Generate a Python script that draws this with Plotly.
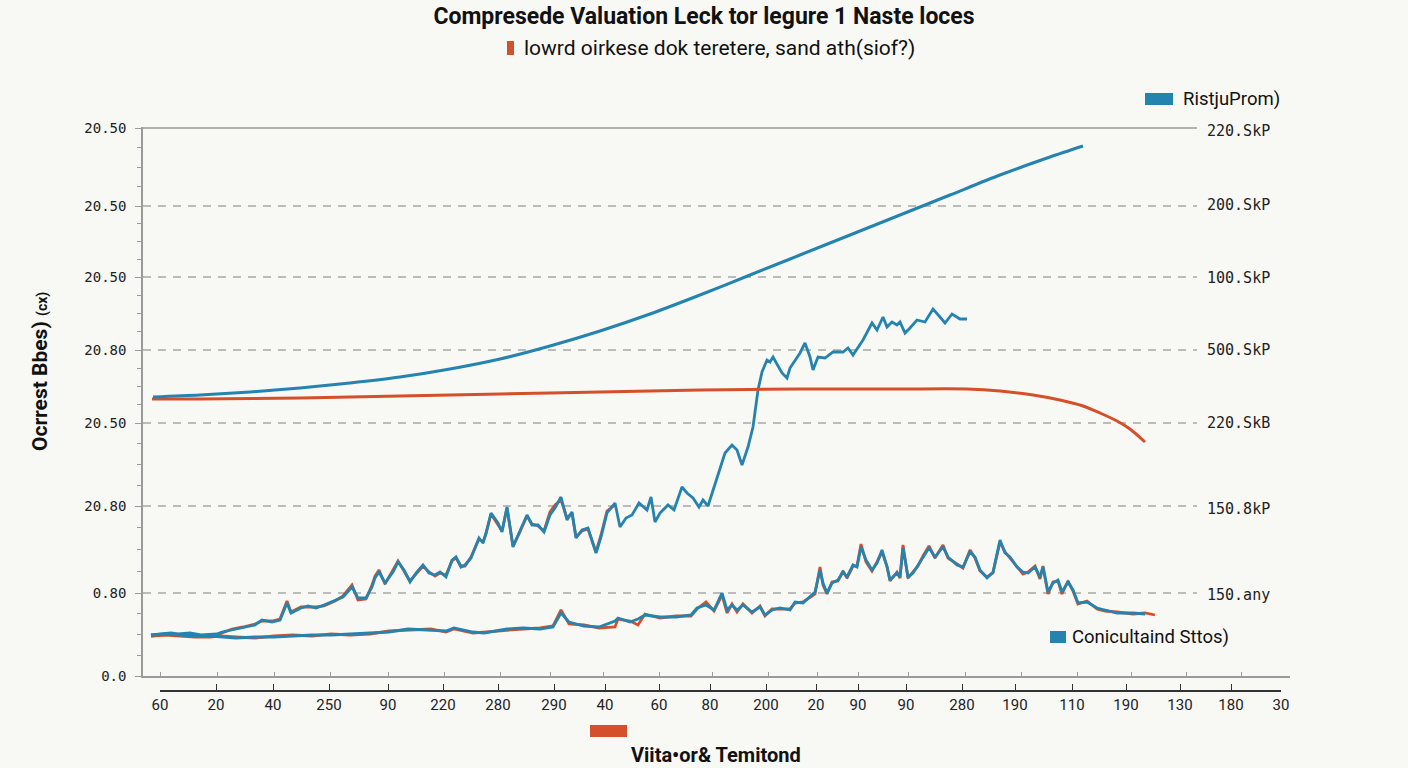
import plotly.graph_objects as go

# ---------------- data (x in "t" units, y in "v" units) ----------------
x_tick_vals = [17, 73, 130, 186, 245, 300, 355, 411, 462, 516, 567, 623, 673, 715, 763, 819, 872, 929, 983, 1037, 1088, 1138]
x_tick_text = ["60", "20", "40", "250", "90", "220", "280", "290", "40", "60", "80", "200", "20", "90", "90", "280", "190", "110", "190", "130", "180", "30"]
x_upper_ticks = [17, 74, 131, 187, 245, 301, 357, 407, 460, 516, 569, 625, 674, 715, 765, 822, 878, 934, 988, 1043, 1098]

y_left_vals = [0, 83, 170, 253, 326, 399, 470, 548]
y_left_text = ["0.0", "0.80", "20.80", "20.50", "20.80", "20.50", "20.50", "20.50"]
y_right_vals = [81, 167, 253, 326, 398, 471, 545]
y_right_text = ["150.any", "150.8kP", "220.SkB", "500.SkP", "100.SkP", "200.SkP", "220.SkP"]

# smooth blue curve
bc_x = [10, 57, 107, 157, 207, 257, 307, 357, 407, 457, 507, 557, 607, 657, 707, 757, 807, 857, 907, 940]
bc_y = [279, 281, 284, 288, 293, 299, 307, 317, 330, 345, 362, 381, 401, 421, 441, 461, 481, 501, 519, 530]

# smooth orange curve
oc_x = [9, 57, 157, 257, 357, 457, 557, 657, 757, 824, 857, 890, 917, 940, 957, 974, 987, 1002]
oc_y = [277, 277, 278, 280, 282, 284, 286, 287, 287, 287, 285, 281, 276, 270, 263, 255, 247, 234]

# noisy upper blue series
ub_x = [8, 20, 28, 35, 47, 58, 74, 79, 89, 100, 112, 119, 129, 137, 144, 148, 158, 165, 173, 181,
        192, 200, 209, 215, 223, 229, 232, 236, 242, 250, 255, 261, 267, 273, 280, 286, 292, 297, 303, 309,
        313, 318, 322, 328, 336, 340, 343, 348, 355, 359, 364, 370, 376, 384, 389, 395, 401, 407, 412, 418,
        424, 429, 433, 439, 445, 453, 458, 464, 472, 477, 483, 489, 496, 504, 508, 512, 517, 525, 531, 539,
        544, 550, 556, 560, 565, 570, 575, 582, 589, 594, 599, 605, 610, 615, 619, 624, 627, 630, 639, 644,
        647, 652, 657, 662, 667, 670, 675, 682, 690, 700, 705, 710, 720, 729, 734, 740, 744, 749, 754, 757,
        762, 767, 774, 782, 790, 797, 802, 809, 817, 824]
ub_y = [41, 42, 43, 42, 43, 41, 42, 44, 46, 48, 51, 56, 54, 56, 73, 63, 68, 70, 68, 71,
        76, 79, 89, 78, 78, 89, 98, 104, 93, 104, 114, 106, 94, 103, 111, 103, 101, 104, 99, 116,
        119, 109, 111, 118, 138, 133, 143, 163, 153, 144, 169, 129, 143, 161, 151, 151, 144, 161, 168, 179,
        156, 164, 138, 146, 148, 123, 139, 163, 173, 149, 158, 161, 173, 166, 179, 154, 163, 171, 166, 189,
        183, 178, 169, 176, 170, 186, 203, 223, 231, 226, 211, 229, 249, 286, 304, 316, 314, 319, 303, 298,
        308, 316, 323, 333, 319, 306, 319, 318, 324, 324, 328, 321, 336, 353, 346, 359, 349, 354, 351, 354,
        343, 348, 356, 354, 367, 359, 353, 362, 357, 357]

# noisy upper orange series (mostly under the blue one)
ou_x = [8, 20, 28, 35, 47, 58, 74, 79, 89, 100, 112, 119, 129, 137, 144, 148, 158, 165, 173, 181,
        192, 200, 209, 215, 223, 229, 232, 236, 242, 250, 255, 261, 267, 273, 280, 286, 292, 297, 303, 309,
        313, 318, 322, 328, 336, 340, 343, 348, 355, 359, 364, 370, 376, 384, 389, 395, 401, 407, 412, 418,
        424, 429, 433, 439, 445, 453, 458, 464, 472]
ou_y = [40, 41, 42, 41, 42, 40, 41, 43, 47, 49, 52, 55, 55, 57, 75, 64, 69, 69, 69, 70,
        75, 80, 91, 76, 77, 91, 100, 106, 92, 106, 115, 105, 95, 102, 110, 104, 100, 103, 101, 115,
        118, 110, 110, 119, 137, 134, 142, 162, 152, 145, 168, 130, 142, 160, 152, 150, 145, 164, 171, 176,
        158, 163, 139, 145, 147, 124, 141, 165, 171]

# noisy lower blue series
lb_x = [8, 22, 37, 52, 67, 77, 93, 112, 131, 150, 169, 188, 207, 227, 246, 265, 288, 303, 311, 330,
        341, 364, 380, 397, 410, 418, 426, 441, 456, 472, 475, 487, 495, 502, 517, 533, 548, 554, 563, 571,
        579, 584, 589, 594, 600, 609, 617, 622, 629, 637, 647, 652, 660, 669, 672, 677, 680, 684, 689, 695,
        700, 704, 710, 714, 718, 723, 729, 734, 739, 744, 747, 754, 757, 760, 765, 770, 775, 780, 786, 792,
        800, 805, 814, 820, 827, 832, 837, 844, 850, 857, 862, 867, 874, 880, 885, 892, 897, 900, 905, 910,
        915, 919, 925, 930, 935, 944, 954, 962, 974, 990, 1002]
lb_y = [41, 42, 41, 40, 40, 39, 38, 39, 39, 40, 41, 41, 42, 43, 44, 47, 46, 45, 48, 44,
        43, 47, 48, 47, 49, 63, 54, 50, 49, 55, 58, 54, 57, 61, 59, 59, 61, 68, 71, 66,
        83, 66, 71, 66, 71, 64, 69, 61, 66, 68, 66, 74, 73, 81, 84, 106, 93, 83, 93, 96,
        104, 99, 111, 109, 129, 116, 106, 113, 126, 109, 96, 103, 99, 128, 99, 103, 111, 119, 128, 119,
        129, 119, 111, 109, 124, 119, 106, 98, 104, 136, 123, 119, 109, 104, 103, 109, 99, 109, 84, 93,
        96, 84, 94, 86, 73, 74, 68, 66, 63, 63, 62]

# noisy lower orange series
ol_x = [8, 22, 37, 52, 67, 77, 93, 112, 131, 150, 169, 188, 207, 227, 246, 265, 288, 303, 311, 330,
        341, 364, 380, 397, 410, 418, 426, 441, 456, 472, 475, 487, 495, 502, 517, 533, 548, 554, 563, 571,
        579, 584, 589, 594, 600, 609, 617, 622, 629, 637, 647, 652, 660, 669, 672, 677, 680, 684, 689, 695,
        700, 704, 710, 714, 718, 723, 729, 734, 739, 744, 747, 754, 757, 760, 765, 770, 775, 780, 786, 792,
        800, 805, 814, 820, 827, 832, 837, 844, 850, 857, 862, 867, 874, 880, 885, 892, 897, 900, 905, 910,
        915, 919, 925, 930, 935, 944, 954, 962, 974, 990, 1002, 1012]
ol_y = [40, 41, 40, 39, 39, 40, 39, 38, 40, 41, 40, 42, 41, 42, 45, 46, 47, 44, 47, 43,
        44, 46, 47, 48, 50, 66, 52, 51, 48, 49, 57, 55, 51, 62, 58, 60, 60, 67, 74, 65,
        81, 63, 72, 64, 72, 63, 70, 60, 67, 67, 67, 73, 74, 80, 82, 109, 91, 82, 94, 95,
        105, 98, 110, 110, 132, 114, 105, 114, 124, 110, 95, 104, 98, 131, 98, 104, 110, 120, 130, 118,
        131, 118, 112, 108, 126, 118, 105, 99, 103, 134, 124, 118, 110, 102, 104, 110, 97, 110, 82, 94,
        95, 82, 95, 85, 72, 75, 67, 65, 64, 62, 63, 61]

BLUE = "#2583b0"
ORANGE = "#d4502a"
BG = "#f8f8f5"

# ---------------- layout geometry ----------------
L, R, T, B = 143, 118, 127, 77
W, H = 1408, 768
PW, PH = W - L - R, H - T - B
X_END = 1054          # right end of the gridded area (t units)
Y_TOP = 549


def px(xp):
    return (xp - L) / PW


def py(yp):
    return (H - B - yp) / PH


fig = go.Figure()

line_w = 2.8
fig.add_trace(go.Scatter(x=ou_x, y=ou_y, mode="lines", line=dict(color=ORANGE, width=line_w), showlegend=False, hoverinfo="skip"))
fig.add_trace(go.Scatter(x=ol_x, y=ol_y, mode="lines", line=dict(color=ORANGE, width=line_w), showlegend=False, hoverinfo="skip"))
fig.add_trace(go.Scatter(x=ub_x, y=ub_y, mode="lines", line=dict(color=BLUE, width=line_w), showlegend=False, hoverinfo="skip"))
fig.add_trace(go.Scatter(x=lb_x, y=lb_y, mode="lines", line=dict(color=BLUE, width=line_w), showlegend=False, hoverinfo="skip"))
fig.add_trace(go.Scatter(x=oc_x, y=oc_y, mode="lines", line=dict(color=ORANGE, width=3, shape="spline", smoothing=0.8), showlegend=False, hoverinfo="skip"))
fig.add_trace(go.Scatter(x=bc_x, y=bc_y, mode="lines", line=dict(color=BLUE, width=3, shape="spline", smoothing=0.8), showlegend=False, hoverinfo="skip"))
# empty traces so the extra axes get drawn
fig.add_trace(go.Scatter(x=[None], y=[None], xaxis="x2", yaxis="y", showlegend=False, hoverinfo="skip"))
fig.add_trace(go.Scatter(x=[None], y=[None], xaxis="x3", yaxis="y", showlegend=False, hoverinfo="skip"))
fig.add_trace(go.Scatter(x=[None], y=[None], xaxis="x", yaxis="y2", showlegend=False, hoverinfo="skip"))

# minor ticks: three between each pair of major ticks
minor_vals = []
for a, b in zip(y_left_vals[:-1], y_left_vals[1:]):
    for k in (1, 2, 3):
        minor_vals.append(a + (b - a) * k / 4)

GRID = "#a6a6a6"
fig.update_layout(
    width=W, height=H,
    margin=dict(l=L, r=R, t=T, b=B, pad=0),
    paper_bgcolor=BG, plot_bgcolor="rgba(0,0,0,0)",
    showlegend=False,
    title=dict(text="<b>Compresede Valuation Leck tor legure 1 Naste loces</b>",
               x=0.5, xref="container", xanchor="center",
               y=1 - 16 / H, yref="container", yanchor="middle",
               font=dict(family="Roboto", size=23, color="#111")),
    xaxis=dict(domain=[0, X_END / PW], range=[0, X_END], showline=False, showticklabels=False,
               ticks="", showgrid=False, zeroline=False),
    xaxis2=dict(domain=[17 / PW, 1138 / PW], range=[17, 1138], anchor="free", position=0,
                showline=True, linecolor="#333", linewidth=1.5,
                ticks="inside", ticklen=6, tickcolor="#333", tickwidth=1.2,
                tickmode="array", tickvals=x_tick_vals, ticktext=x_tick_text,
                tickfont=dict(family="Roboto", size=15, color="#222"),
                showgrid=False, zeroline=False),
    xaxis3=dict(domain=[0, 1], range=[0, PW], anchor="y",
                showline=True, linecolor="#9a9a9a", linewidth=1.5,
                ticks="inside", ticklen=4, tickcolor="#9a9a9a", tickwidth=1.2,
                tickmode="array", tickvals=x_upper_ticks, showticklabels=False,
                showgrid=False, zeroline=False),
    yaxis=dict(domain=[15 / PH, 1], range=[0, Y_TOP], anchor="x",
               showline=True, linecolor="#9a9a9a", linewidth=1.5,
               ticks="outside", ticklen=6, tickcolor="#9a9a9a", tickwidth=1.2,
               tickmode="array", tickvals=y_left_vals, ticktext=y_left_text,
               tickfont=dict(family="DejaVu Sans Mono", size=14, color="#222"),
               ticklabelstandoff=6,
               minor=dict(tickmode="array", tickvals=minor_vals, ticks="outside", ticklen=4,
                          tickcolor="#9a9a9a", showgrid=False),
               showgrid=False, zeroline=False),
    yaxis2=dict(overlaying="y", side="right", anchor="x", range=[0, Y_TOP],
                showline=False, ticks="", showgrid=False, zeroline=False,
                tickmode="array", tickvals=y_right_vals, ticktext=y_right_text,
                tickfont=dict(family="DejaVu Sans Mono", size=15, color="#222"),
                ticklabelstandoff=9),
)

# dashed gridlines over the gridded area, solid line at the top tick
for v in y_left_vals[1:-1]:
    fig.add_shape(type="line", xref="x", yref="y", x0=0, x1=X_END, y0=v, y1=v, layer="below",
                  line=dict(color=GRID, width=1.3, dash="8px,7px"))
fig.add_shape(type="line", xref="x", yref="y", x0=0, x1=X_END, y0=y_left_vals[-1], y1=y_left_vals[-1],
              layer="below", line=dict(color="#9a9a9a", width=1.5))

# ---------------- legend-like decorations ----------------
def swatch(x0, y0, x1, y1, color):
    fig.add_shape(type="rect", xref="paper", yref="paper", x0=px(x0), x1=px(x1), y0=py(y1), y1=py(y0),
                  fillcolor=color, line=dict(width=0), layer="above")


def label(text, xp, yp, size, anchor="left", bold=False, family="Roboto"):
    fig.add_annotation(text=f"<b>{text}</b>" if bold else text, xref="paper", yref="paper",
                       x=px(xp), y=py(yp), xanchor=anchor, yanchor="middle", showarrow=False,
                       font=dict(family=family, size=size, color="#111"))


swatch(507, 41, 514, 55, ORANGE)
label("lowrd oirkese dok teretere, sand ath(siof?)", 522, 48, 21)

swatch(1145, 93, 1173, 105, BLUE)
label("RistjuProm)", 1181, 99, 18.5)

swatch(1050, 631, 1066, 643, BLUE)
label("Conicultaind Sttos)", 1070, 637, 18.5)

swatch(590, 725, 627, 737, ORANGE)
label("Viita•or&amp; Temitond", 716, 755, 20, anchor="center", bold=True)

# rotated y-axis title
fig.add_annotation(text="<b>Ocrrest Bbes)</b> <span style='font-size:14px'><b>(cx)</b></span>",
                   xref="paper", yref="paper", x=px(40), y=py(372), xanchor="center", yanchor="middle",
                   textangle=-90, showarrow=False, font=dict(family="Roboto", size=21, color="#111"))

fig.write_html("out.html")
